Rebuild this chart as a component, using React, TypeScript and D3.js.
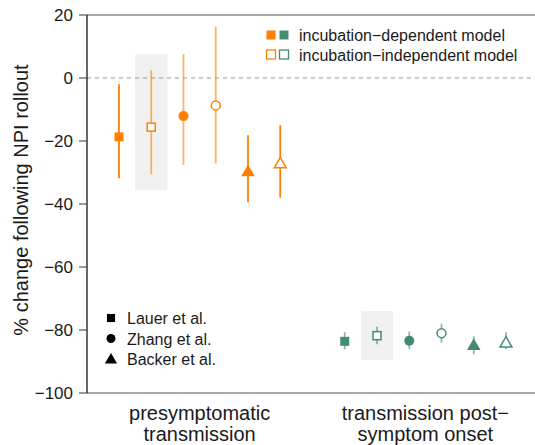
import React from "react";
import * as d3 from "d3";

const groups = ["presymptomatic\ntransmission", "transmission post−\nsymptom onset"];
const studies = ["Lauer et al.", "Zhang et al.", "Backer et al."];
const models = ["incubation−dependent model", "incubation−independent model"];

// order per group: Lauer dep, Lauer indep, Zhang dep, Zhang indep, Backer dep, Backer indep
const preEstimate = [-18.7, -15.6, -12.1, -8.7, -29.6, -27.1];
const preLower = [-31.8, -30.6, -27.6, -27.1, -39.5, -38.0];
const preUpper = [-2.0, 2.5, 7.6, 16.3, -18.2, -15.0];
const postEstimate = [-83.6, -81.8, -83.4, -81.0, -84.8, -84.0];
const postLower = [-86.1, -84.5, -86.0, -84.0, -87.7, -86.1];
const postUpper = [-80.7, -79.0, -80.5, -78.0, -82.0, -80.7];
const highlighted = [false, true, false, false, false, false];
const yTicks = [20, 0, -20, -40, -60, -80, -100];

const W = 535, H = 445;
const ORANGE = "#FF7F00";
const GREEN = "#458B74";
const FONT = "'Liberation Sans', Arial, Helvetica, sans-serif";
const TEXT = "#1a1a1a";

const y = d3.scaleLinear().domain([-100, 20]).range([393, 15]);
const x = d3.scaleLinear().domain([0, 12]).range([119, 506]);
const groupSlot0 = [0, 7];
const lineOpacity = [[1, 0.6, 0.6, 0.6, 1, 1], [0.6, 0.6, 0.6, 0.6, 0.6, 0.6]];

function Marker({ shape, filled, color, cx, cy, scale = 1 }: any) {
  const fill = filled ? color : "#fff";
  const sw = filled ? 0 : 1.5;
  if (shape === 0) {
    const s = (filled ? 9 : 8) * scale;
    return <rect x={cx - s / 2} y={cy - s / 2} width={s} height={s} fill={fill} stroke={color} strokeWidth={sw} />;
  }
  if (shape === 1) {
    return <circle cx={cx} cy={cy} r={(filled ? 5 : 4.5) * scale} fill={fill} stroke={color} strokeWidth={sw} />;
  }
  const sym = d3.symbol().type(d3.symbolTriangle).size((filled ? 80 : 62) * scale * scale)();
  return <path d={sym as string} transform={`translate(${cx},${cy + 1})`} fill={fill} stroke={color} strokeWidth={sw} />;
}

export default function App() {
  const data = [
    { est: preEstimate, lo: preLower, hi: preUpper, color: ORANGE },
    { est: postEstimate, lo: postLower, hi: postUpper, color: GREEN },
  ];
  const slotW = x(1) - x(0);
  return (
    <svg width={W} height={H} style={{ position: "absolute", left: 0, top: 0 }} fontFamily={FONT}>
      <rect width={W} height={H} fill="#fff" />
      {data.map((g, gi) =>
        g.est.map((_, i) =>
          highlighted[i] ? (
            <rect key={`h${gi}${i}`} x={x(groupSlot0[gi] + i) - slotW / 2} width={slotW}
              y={y(g.hi[i] + 5)} height={y(g.lo[i] - 5) - y(g.hi[i] + 5)} fill="#f0f0f0" />
          ) : null
        )
      )}
      <line x1={87} x2={W} y1={y(20)} y2={y(20)} stroke="#555" strokeWidth={1.2} />
      <line x1={87} x2={W} y1={y(-100)} y2={y(-100)} stroke="#555" strokeWidth={1.2} />
      <line x1={87} x2={W} y1={y(0)} y2={y(0)} stroke="#999" strokeWidth={1.1} strokeDasharray="4,4" />
      <line x1={87} x2={87} y1={y(20)} y2={y(-100)} stroke="#000" strokeWidth={1.2} />
      {yTicks.map((t) => (
        <g key={t}>
          <line x1={79} x2={87} y1={y(t)} y2={y(t)} stroke="#444" strokeWidth={1.1} />
          <text x={73} y={y(t) + 6} textAnchor="end" fontSize={17} fill={TEXT}>
            {t < 0 ? `−${-t}` : `${t}`}
          </text>
        </g>
      ))}
      <text transform={`translate(28,200) rotate(-90)`} textAnchor="middle" fontSize={20} fill={TEXT}>
        % change following NPI rollout
      </text>
      {data.map((g, gi) =>
        g.est.map((v, i) => {
          const cx = x(groupSlot0[gi] + i);
          return (
            <g key={`p${gi}${i}`}>
              <line x1={cx} x2={cx} y1={y(g.hi[i])} y2={y(g.lo[i])} stroke={g.color}
                strokeWidth={1.8} strokeOpacity={lineOpacity[gi][i]} />
              <Marker shape={Math.floor(i / 2)} filled={i % 2 === 0} color={g.color} cx={cx} cy={y(v)} />
            </g>
          );
        })
      )}
      {groups.map((lab, gi) => (
        <text key={lab} x={x(groupSlot0[gi] + 2.5)} y={420} textAnchor="middle" fontSize={20} fill={TEXT}>
          {lab.split("\n").map((l, k) => (
            <tspan key={k} x={x(groupSlot0[gi] + 2.5)} dy={k === 0 ? 0 : 21}>{l}</tspan>
          ))}
        </text>
      ))}
      {models.map((m, k) => {
        const cy = 35 + k * 19.5;
        const filled = k === 0;
        return (
          <g key={m}>
            <rect x={266.5} y={cy - 4.5} width={9} height={9} fill={filled ? ORANGE : "#fff"} stroke={ORANGE} strokeWidth={filled ? 0 : 1.3} />
            <rect x={279.5} y={cy - 4.5} width={9} height={9} fill={filled ? GREEN : "#fff"} stroke={GREEN} strokeWidth={filled ? 0 : 1.3} />
            <text x={299} y={cy + 6} fontSize={16} fill={TEXT}>{m}</text>
          </g>
        );
      })}
      {studies.map((s, k) => {
        const cy = 318 + k * 20.5;
        return (
          <g key={s}>
            <Marker shape={k} filled={true} color="#000" cx={111} cy={cy} scale={0.9} />
            <text x={127} y={cy + 6} fontSize={16} fill={TEXT}>{s}</text>
          </g>
        );
      })}
    </svg>
  );
}
